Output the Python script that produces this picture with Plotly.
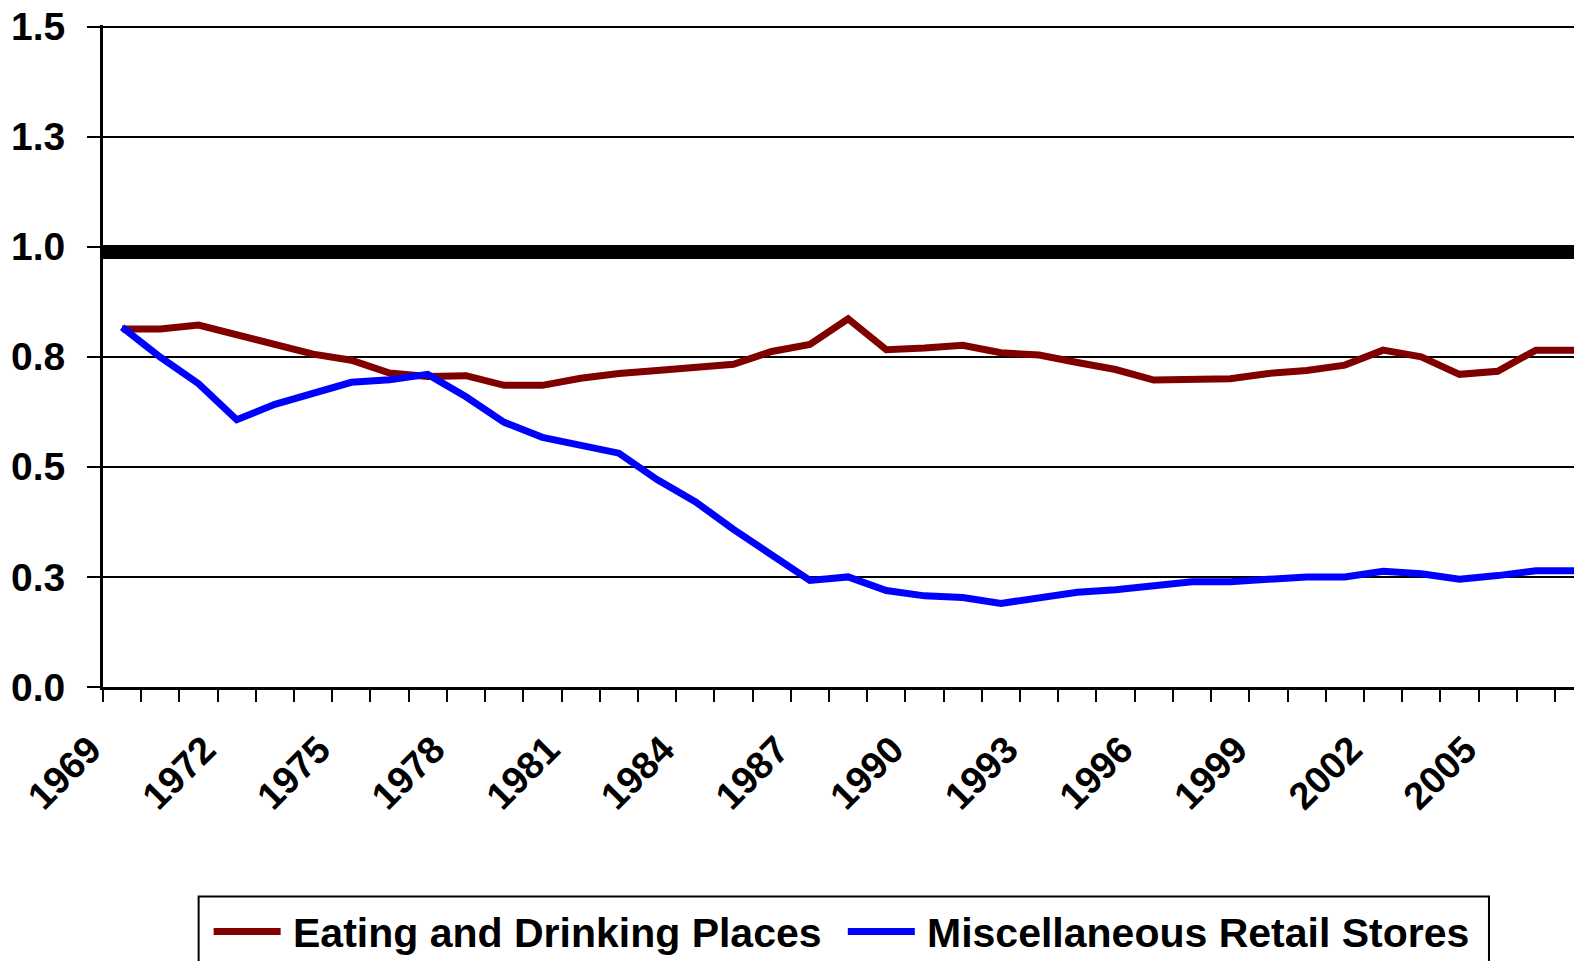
import plotly.graph_objects as go

# Ratio series, 1969-2007
years = list(range(1969, 2008))
eating_drinking = [
    0.813, 0.813, 0.822, 0.801, 0.778, 0.756, 0.742, 0.713, 0.705, 0.707,
    0.685, 0.685, 0.701, 0.712, 0.719, 0.727, 0.733, 0.762, 0.778, 0.836,
    0.766, 0.770, 0.776, 0.759, 0.754, 0.737, 0.721, 0.697, 0.700, 0.700,
    0.712, 0.719, 0.731, 0.765, 0.750, 0.710, 0.717, 0.765, 0.765,
]
misc_retail = [
    0.817, 0.749, 0.689, 0.607, 0.642, 0.669, 0.692, 0.698, 0.710, 0.659,
    0.601, 0.567, 0.549, 0.531, 0.471, 0.421, 0.358, 0.300, 0.242, 0.250,
    0.219, 0.207, 0.203, 0.190, 0.203, 0.215, 0.221, 0.228, 0.239, 0.239,
    0.244, 0.250, 0.250, 0.263, 0.257, 0.245, 0.253, 0.264, 0.264,
]
series_names = ["Eating and Drinking Places", "Miscellaneous Retail Stores"]
series_colors = ["#800000", "#0000FF"]
benchmark = 0.988
y_tickvals = [0, 0.25, 0.5, 0.75, 1.0, 1.25, 1.5]
y_ticktext = ["0.0", "0.3", "0.5", "0.8", "1.0", "1.3", "1.5"]
label_every = 3

# page pixels; the body margin is zeroed in the html below
W, H = 1574, 961
PLOT_LEFT, PLOT_TOP, PLOT_BOTTOM = 103.4, 25.1, 686.6
M_L, M_T, M_B, M_R = PLOT_LEFT, PLOT_TOP, H - PLOT_BOTTOM, 0
PW, PH = W - M_L - M_R, H - M_T - M_B
PX_PER_YEAR = 38.2
Y_TOP = 1.5 * (1 + 1.5 / PH)  # a hair above 1.5 so the top gridline is kept

FONT = "Liberation Sans, Arial, sans-serif"


def px_x(px):
    return (px - M_L) / PW


def px_y(py):
    return (H - M_B - py) / PH


fig = go.Figure()
for name, vals, col in zip(series_names, [eating_drinking, misc_retail], series_colors):
    fig.add_trace(go.Scatter(
        x=years, y=vals, mode="lines", name=name, showlegend=False,
        line=dict(color=col, width=7),
    ))

fig.add_hline(y=benchmark, line=dict(color="black", width=14))

# tick marks sit between categories, labels every 3rd year
boundaries = [y - 0.5 for y in years]
ticktext = [str(y) if (y - years[0]) % label_every == 0 else "" for y in years]

fig.update_layout(
    width=W, height=H,
    paper_bgcolor="white", plot_bgcolor="white",
    margin=dict(l=M_L, r=M_R, t=M_T, b=M_B),
    font=dict(family=FONT, color="black"),
    xaxis=dict(
        range=[years[0] - 0.5, years[0] - 0.5 + PW / PX_PER_YEAR],
        tickmode="array", tickvals=boundaries, ticktext=ticktext,
        tickangle=-45, ticks="outside", ticklen=12, tickwidth=2, tickcolor="black",
        tickfont=dict(size=38, weight="bold", family=FONT),
        ticklabelstandoff=10, ticklabelshift=-13,
        showgrid=False, zeroline=False, automargin=False,
        showline=True, linecolor="black", linewidth=3,
    ),
    yaxis=dict(
        range=[0, Y_TOP],
        tickmode="array", tickvals=y_tickvals, ticktext=y_ticktext,
        ticks="outside", ticklen=13, tickwidth=2, tickcolor="black",
        tickfont=dict(size=39, weight="bold", family=FONT),
        ticklabelstandoff=14, automargin=False, ticklabeloverflow="allow",
        showgrid=True, gridcolor="black", gridwidth=2,
        zeroline=False, showline=True, linecolor="black", linewidth=3,
    ),
)

# legend box drawn by hand (cut off at the bottom like the source)
fig.add_shape(type="rect", xref="paper", yref="paper",
              x0=px_x(199), x1=px_x(1489), y0=px_y(1010), y1=px_y(896),
              line=dict(color="black", width=2), fillcolor="white")
legend_items = [(214, 291), (848, 925)]
for (lx, tx), name, col in zip(legend_items, series_names, series_colors):
    fig.add_shape(type="line", xref="paper", yref="paper",
                  x0=px_x(lx), x1=px_x(lx + 67), y0=px_y(931), y1=px_y(931),
                  line=dict(color=col, width=7))
    fig.add_annotation(xref="paper", yref="paper", x=px_x(tx), y=px_y(932),
                       xanchor="left", yanchor="middle", showarrow=False,
                       text=name, font=dict(size=41, weight="bold", family=FONT))

fig.write_html("out.html", config={"displayModeBar": False},
               post_script="document.body.style.margin = '0px';")
